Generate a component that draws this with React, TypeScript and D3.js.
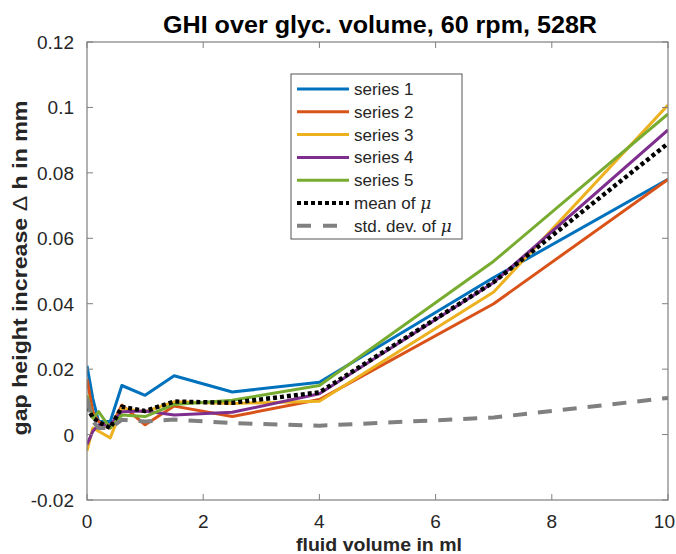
import React from "react";
import * as d3 from "d3";

const volume = [0, 0.1, 0.2, 0.4, 0.6, 1, 1.5, 2.5, 4, 7, 10];
const series1 = [0.021, 0.011, 0.004, 0.004, 0.015, 0.012, 0.018, 0.013, 0.016, 0.048, 0.078];
const series2 = [0.017, 0.007, 0.004, 0.002, 0.009, 0.003, 0.0087, 0.0055, 0.0107, 0.04, 0.078];
const series3 = [-0.005, 0.002, 0.001, -0.001, 0.008, 0.007, 0.01, 0.0095, 0.0102, 0.0436, 0.1007];
const series4 = [-0.003, 0.001, 0.003, 0.003, 0.007, 0.0072, 0.006, 0.0068, 0.0125, 0.0465, 0.0931];
const series5 = [0.012, 0.005, 0.007, 0.002, 0.006, 0.0055, 0.0092, 0.0105, 0.015, 0.053, 0.098];
const meanMu = [0.0084, 0.0052, 0.0038, 0.002, 0.0085, 0.0072, 0.0101, 0.0097, 0.0129, 0.0466, 0.089];
const stdMu = [0.011, 0.004, 0.002, 0.002, 0.0045, 0.004, 0.0046, 0.0035, 0.0027, 0.0052, 0.0112];

const seriesNames = ["series 1", "series 2", "series 3", "series 4", "series 5"];
const seriesColors = ["#0072BD", "#D95319", "#EDB120", "#7E2F8E", "#77AC30"];
const xTicks = [0, 2, 4, 6, 8, 10];
const yTicks = [-0.02, 0, 0.02, 0.04, 0.06, 0.08, 0.1, 0.12];

const W = 676;
const H = 554;
const L = 87, R = 668, T = 42, B = 500;
const FONT = "'Liberation Sans', Arial, Helvetica, sans-serif";

export default function App() {
  const x = d3.scaleLinear().domain([0, 10]).range([L, R]);
  const y = d3.scaleLinear().domain([-0.02, 0.12]).range([B, T]);
  const line = d3
    .line<number>()
    .x((_, i) => x(volume[i]))
    .y((d) => y(d));
  const all = [series1, series2, series3, series4, series5];
  const axisCol = "#7f7f7f";
  const textCol = "#262626";
  const tick = 6;
  const tickFont = 19;

  const legX = 291, legY = 74, legW = 171, legH = 165;
  const rowH = 22.8;
  const row0 = legY + 15;
  const legendItems = [
    ...seriesNames.map((n, i) => ({ label: n, color: seriesColors[i], width: 3, dash: undefined as string | undefined, mu: false })),
    { label: "mean of ", color: "#000", width: 4, dash: "4 3", mu: true },
    { label: "std. dev. of ", color: "#808080", width: 4, dash: "14 12", mu: true },
  ];

  return (
    <svg width={W} height={H} style={{ position: "absolute", left: 0, top: 0, background: "#fff" }}>
      <rect x={0} y={0} width={W} height={H} fill="#fff" />
      <defs>
        <clipPath id="plotclip">
          <rect x={L} y={T} width={R - L} height={B - T} />
        </clipPath>
      </defs>
      <g clipPath="url(#plotclip)" fill="none" strokeLinejoin="round">
        {all.map((s, i) => (
          <path key={i} d={line(s) || ""} stroke={seriesColors[i]} strokeWidth={3} />
        ))}
        <path d={line(meanMu) || ""} stroke="#000" strokeWidth={4.4} strokeDasharray="4 3" />
        <path d={line(stdMu) || ""} stroke="#808080" strokeWidth={4} strokeDasharray="14 11" />
      </g>
      {/* axes box */}
      <rect x={L} y={T} width={R - L} height={B - T} fill="none" stroke={axisCol} strokeWidth={1.2} />
      {xTicks.map((t) => {
        const label = String(t);
        const halfW = (label.length * 0.556 * tickFont) / 2;
        const lx = Math.min(x(t), W - 1 - halfW);
        return (
          <g key={"x" + t}>
            <line x1={x(t)} x2={x(t)} y1={B} y2={B - tick} stroke={axisCol} />
            <line x1={x(t)} x2={x(t)} y1={T} y2={T + tick} stroke={axisCol} />
            <text x={lx} y={B + 28} textAnchor="middle" fontFamily={FONT} fontSize={tickFont} fill={textCol}>
              {label}
            </text>
          </g>
        );
      })}
      {yTicks.map((t) => (
        <g key={"y" + t}>
          <line x1={L} x2={L + tick} y1={y(t)} y2={y(t)} stroke={axisCol} />
          <line x1={R} x2={R - tick} y1={y(t)} y2={y(t)} stroke={axisCol} />
          <text x={L - 13} y={y(t) + 7} textAnchor="end" fontFamily={FONT} fontSize={tickFont} fill={textCol}>
            {String(t)}
          </text>
        </g>
      ))}
      <text
        x={380}
        y={33}
        textAnchor="middle"
        fontFamily={FONT}
        fontSize={24}
        fontWeight="bold"
        fill="#000"
        textLength={434}
        lengthAdjust="spacingAndGlyphs"
      >
        GHI over glyc. volume, 60 rpm, 528R
      </text>
      <text
        x={379}
        y={551}
        textAnchor="middle"
        fontFamily={FONT}
        fontSize={19}
        fontWeight="bold"
        fill={textCol}
        textLength={166}
        lengthAdjust="spacingAndGlyphs"
      >
        fluid volume in ml
      </text>
      <text
        transform={`translate(27, 268) rotate(-90)`}
        textAnchor="middle"
        fontFamily={FONT}
        fontSize={20}
        fontWeight="bold"
        fill={textCol}
        textLength={335}
        lengthAdjust="spacingAndGlyphs"
      >
        gap height increase <tspan fontWeight="normal">Δ</tspan> h in mm
      </text>
      {/* legend */}
      <rect x={legX} y={legY} width={legW} height={legH} fill="#fff" stroke="#555" strokeWidth={1} />
      {legendItems.map((it, i) => {
        const yy = row0 + i * rowH;
        return (
          <g key={it.label}>
            <line x1={297} x2={349} y1={yy} y2={yy} stroke={it.color} strokeWidth={it.width} strokeDasharray={it.dash} />
            <text x={354} y={yy + 6} fontFamily={FONT} fontSize={17} fill={textCol}>
              {it.label}
              {it.mu ? <tspan fontFamily="'DejaVu Serif', serif" fontStyle="italic">μ</tspan> : null}
            </text>
          </g>
        );
      })}
    </svg>
  );
}
